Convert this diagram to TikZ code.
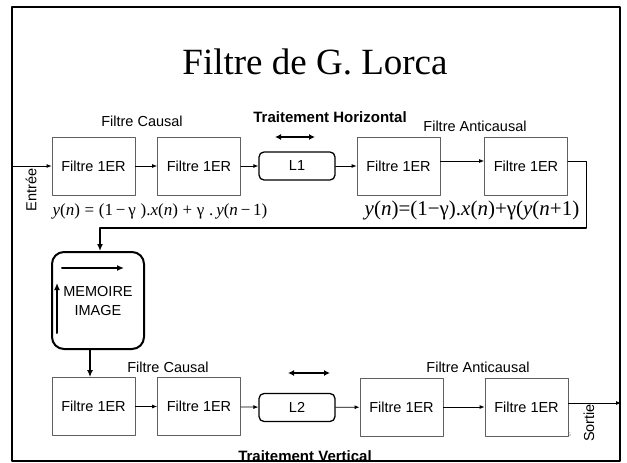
\documentclass[tikz,border=0pt]{standalone}
\usepackage{fontspec}
\setmainfont{Liberation Sans}
\newfontfamily\timesfont{Liberation Serif}
\usetikzlibrary{arrows.meta}
\definecolor{boxgray}{RGB}{96,96,96}
\newcommand{\vi}[1]{\textit{#1}}

\begin{document}
\begin{tikzpicture}[x=1pt,y=-1pt,line cap=round,line join=round,
  filt/.style={draw=boxgray,line width=0.8pt,fill=white,minimum width=83pt,minimum height=58pt,inner sep=0pt,font=\fontsize{14.5}{16}\selectfont},
  lbox/.style={draw,line width=1.3pt,rounded corners=5pt,fill=white,minimum width=76pt,minimum height=28pt,inner sep=0pt,font=\fontsize{14.5}{16}\selectfont},
  lab/.style={font=\fontsize{14.5}{16}\selectfont,inner sep=0pt},
  blab/.style={font=\bfseries\fontsize{15}{16}\selectfont,inner sep=0pt},
  eq/.style={font=\timesfont\fontsize{#1}{22}\selectfont,inner sep=0pt},
  sig/.style={line width=0.8pt,-{Latex[length=5pt,width=4pt]}},
  thick2/.style={line width=2pt,-{Latex[length=7pt,width=6pt]}},
  dbl/.style={line width=1.6pt,{Latex[length=6pt,width=6pt]}-{Latex[length=6pt,width=6pt]}}]
\path[use as bounding box] (0,0) rectangle (627,463);
% title
\node[font=\timesfont\fontsize{37}{40}\selectfont] (title) at (315,62) {Filtre de G. Lorca};
% horizontal pass
\node[filt] (c1) at (93.5,166) {Filtre 1ER};
\node[filt] (c2) at (199,166) {Filtre 1ER};
\node[lbox] (l1) at (297,166) {L1};
\node[filt] (a1) at (398.5,166) {Filtre 1ER};
\node[filt] (a2) at (526,166) {Filtre 1ER};
\node[lab] (caush) at (142,121) {Filtre Causal};
\node[lab] (antih) at (475,126) {Filtre Anticausal};
\node[blab] (trh) at (330,117) {Traitement Horizontal};
\coordinate (hl) at (275,137);
\coordinate (hr) at (315,137);
\draw[dbl] (hl) -- (hr);
\node[lab,rotate=90] (in) at (31,190) {Entrée};
\coordinate (inp) at (12,166);
\draw[sig] (inp) -- (c1);
\draw[sig] (c1) -- (c2);
\draw[sig] (c2) -- (l1);
\draw[sig] (l1) -- (a1);
\draw[sig] ([yshift=5pt]a1.east) -- ([yshift=5pt]a2.west);
\node[eq=17] (eqc) at (160,211) {\vi{y}(\vi{n})\;=\;(1\,−\,γ\;).\vi{x}(\vi{n})\;+\;γ\;.\,\vi{y}(\vi{n}\,−\,1)};
\node[eq=21] (eqa) at (472,210) {\vi{y}(\vi{n})=(1−γ).\vi{x}(\vi{n})+γ(\vi{y}(\vi{n}+1)};
% loop back to memory
\node[draw,line width=2pt,rounded corners=12pt,minimum width=92pt,minimum height=97pt,inner sep=0pt] (mem) at (98,300.5) {};
\node[font=\fontsize{14.5}{19}\selectfont,inner sep=0pt,align=center] (memtxt) at (98,301) {MEMOIRE\\IMAGE};
\coordinate (rt) at (586,161);
\coordinate (rb) at (586,228);
\coordinate (lb) at (100,228);
\draw[line width=0.8pt] ([yshift=5pt]a2.east) -- (rt) -- (rb);
\draw[thick2] (rb) -- (lb) -- (lb |- mem.north);
\coordinate (sh1) at (62,268);
\coordinate (sh2) at (124,268);
\coordinate (sv1) at (57,333);
\coordinate (sv2) at (57,283);
\draw[thick2] (sh1) -- (sh2);
\draw[thick2] (sv1) -- (sv2);
% vertical pass
\node[filt] (c3) at (93.5,406.5) {Filtre 1ER};
\node[filt] (c4) at (199,406.5) {Filtre 1ER};
\node[lbox] (l2) at (297,407.5) {L2};
\node[filt] (a3) at (401.5,407) {Filtre 1ER};
\node[font=\fontsize{5}{5}\selectfont,text=gray,inner sep=0pt] (pg) at (568,435) {25};
\node[filt] (a4) at (526.5,407) {Filtre 1ER};
\node[lab] (causv) at (168,367) {Filtre Causal};
\node[lab] (antiv) at (478,367) {Filtre Anticausal};
\coordinate (vl) at (288,373);
\coordinate (vr) at (330,373);
\draw[dbl] (vl) -- (vr);
\draw[thick2] (mem.south -| 90,0) -- (c3.north -| 90,0);
\draw[sig] (c3) -- (c4);
\draw[sig] (c4) -- (l2);
\draw[sig] (l2) -- (a3);
\draw[sig] (a3) -- (a4);
\coordinate (out) at (621,403);
\draw[sig] (a4.east |- out) -- (out);
\node[lab,rotate=90] (so) at (589,423) {Sortie};
\node[blab,anchor=base] (trv) at (305,461) {Traitement Vertical};
% frame
\draw[line width=2pt] (12,7) rectangle (620,461);
\end{tikzpicture}
\end{document}
